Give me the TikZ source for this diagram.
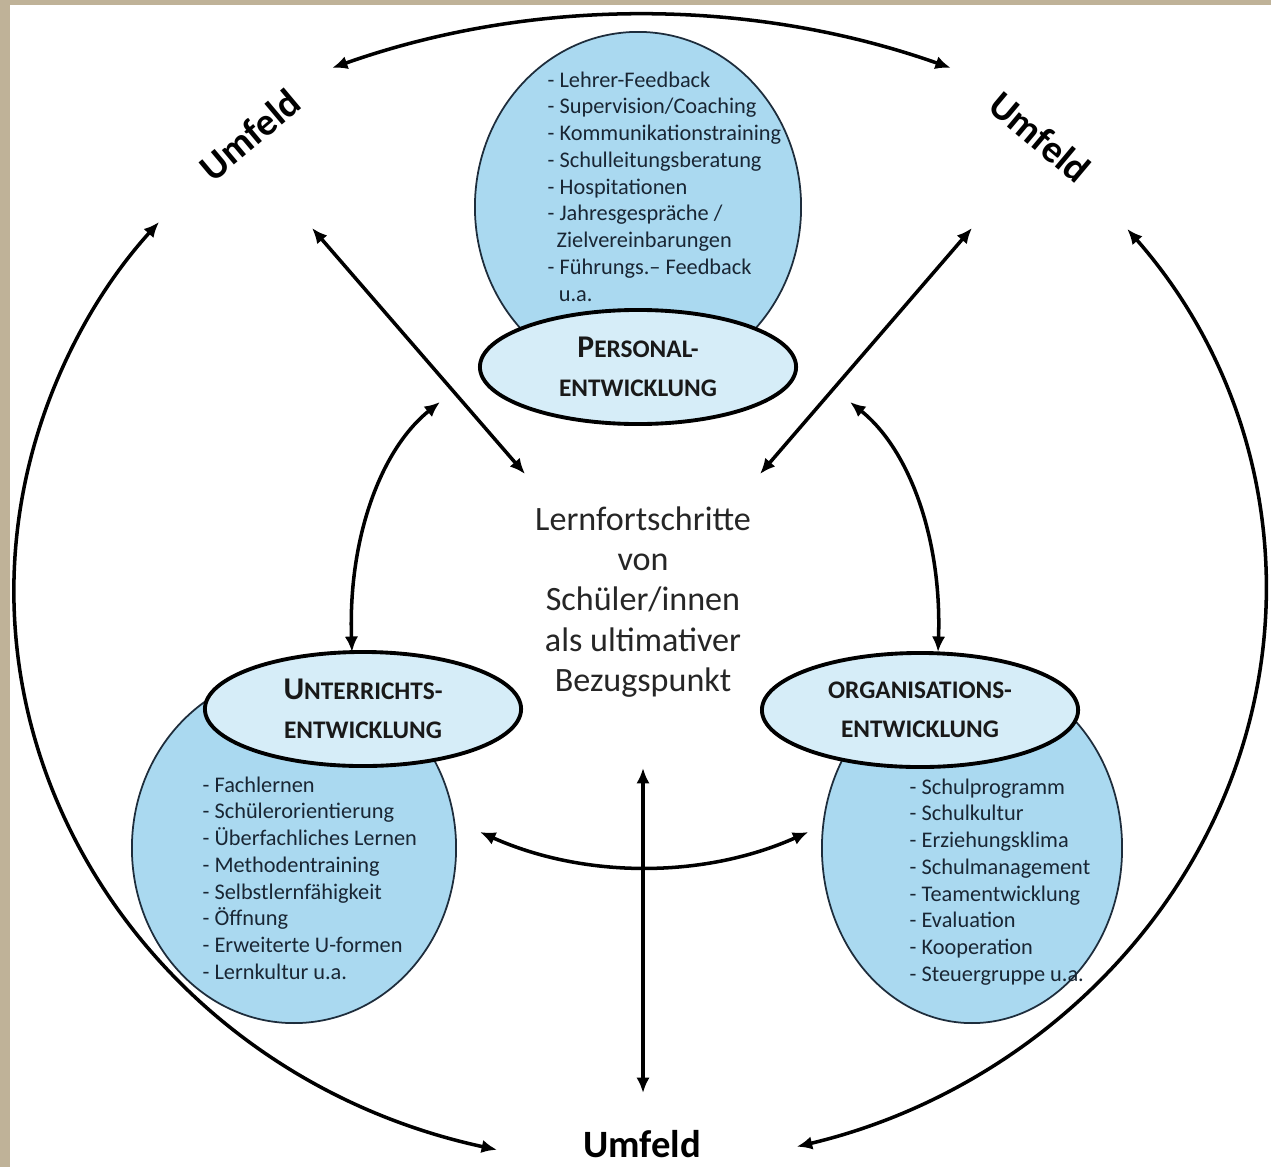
\documentclass[tikz,border=0pt]{standalone}
\usepackage{fontspec}
\setmainfont{Carlito}
\usetikzlibrary{shapes.geometric,arrows.meta,calc}
\definecolor{blobfill}{RGB}{170,217,240}
\definecolor{ellfill}{RGB}{214,237,248}
\definecolor{beige}{RGB}{191,178,152}
\definecolor{listtxt}{RGB}{25,38,52}
\definecolor{blobline}{RGB}{30,45,60}
\newcommand\bigini[1]{{\fontsize{9}{11}\selectfont #1}}
\begin{document}
\begin{tikzpicture}[x=0.01cm,y=-0.01cm,
  arr/.style={line width=1pt, {Latex[length=4.4pt,width=3.8pt]}-{Latex[length=4.4pt,width=3.8pt]}},
  blobshape/.style={ellipse, draw=blobline, line width=0.5pt, fill=blobfill, inner sep=0},
  headell/.style={ellipse, draw=black, line width=1.1pt, fill=ellfill, minimum width=3.16cm, minimum height=1.14cm, inner sep=0, align=center, font=\fontsize{7.2}{11}\selectfont\bfseries, text=black!90},
  listtext/.style={align=left, anchor=north west, inner sep=0, font=\fontsize{6.35}{7.6}\selectfont, text=listtxt},
  umf/.style={font=\fontsize{11}{13}\selectfont\bfseries, text=black, inner sep=1pt},
]
\fill[beige] (0,0) rectangle (1271,1167);
\fill[white] (10,5) rectangle (1271,1167);
\useasboundingbox (0,0) rectangle (1271,1167);

% blobs
\node[blobshape, minimum width=3.26cm, minimum height=3.5cm] (pblob) at (638,207) {};
\node[blobshape, minimum width=3.24cm, minimum height=3.5cm] (ublob) at (294,848) {};
\node[blobshape, minimum width=3.0cm, minimum height=3.5cm] (oblob) at (972,848) {};

% lists
\node[listtext] (plist) at (547,71) {- Lehrer-Feedback\\- Supervision/Coaching\\- Kommunikationstraining\\- Schulleitungsberatung\\- Hospitationen\\- Jahresgespräche /\\\hspace{0.4em}Zielvereinbarungen\\- Führungs.– Feedback\\\hspace{0.5em}u.a.};
\node[listtext] (ulist) at (202,776) {- Fachlernen\\- Schülerorientierung\\- Überfachliches Lernen\\- Methodentraining\\- Selbstlernfähigkeit\\- Öffnung\\- Erweiterte U-formen\\- Lernkultur u.a.};
\node[listtext] (olist) at (909,778) {- Schulprogramm\\- Schulkultur\\- Erziehungsklima\\- Schulmanagement\\- Teamentwicklung\\- Evaluation\\- Kooperation\\- Steuergruppe u.a.};

% header ellipses
\node[headell] (phead) at (638,367) {\bigini{P}ERSONAL-\\ENTWICKLUNG};
\node[headell] (uhead) at (363,709) {\bigini{U}NTERRICHTS-\\ENTWICKLUNG};
\node[headell] (ohead) at (920,710) {ORGANISATIONS-\\ENTWICKLUNG};

% centre text
\node[font=\fontsize{9.7}{11.4}\selectfont, align=center, text=black!85, inner sep=0] (center) at (643,602) {Lernfortschritte\\von\\Schüler/innen\\als ultimativer\\Bezugspunkt};

% Umfeld labels
\node[umf, rotate=40] (umfTL) at (250,135) {Umfeld};
\node[umf, rotate=-40] (umfTR) at (1040,137) {Umfeld};
\node[umf] (umfB) at (642,1144) {Umfeld};

% connector end points
\coordinate (topL) at (332,68);
\coordinate (tlA) at (312,228);
\coordinate (tlB) at (525,474);
\coordinate (trA) at (972,228);
\coordinate (trB) at (760,474);
\coordinate (lcA) at (440,402);
\coordinate (lcB) at (352,652);
\coordinate (rcA) at (850,402);
\coordinate (rcB) at (938,652);
\coordinate (bL) at (480,832);
\coordinate (vA) at (643,768);
\coordinate (vB) at (643,1093);
\coordinate (bigC) at (640,590);
\coordinate (laBot) at ($(bigC)+(103.2:626 and 575)$);
\coordinate (raTop) at ($(bigC)+(-38.9:626 and 575)$);

% connectors
\draw[arr] (topL) arc[start angle=250.5, end angle=289.5, radius=927];
\draw[arr] (tlA) -- (tlB);
\draw[arr] (trA) -- (trB);
\draw[arr] (lcA) .. controls (380,450) and (348,540) .. (lcB);
\draw[arr] (rcA) .. controls (910,450) and (942,540) .. (rcB);
\draw[arr] (bL) arc[start angle=114.1, end angle=65.9, radius=402];
\draw[arr] (vA) -- (vB);
\draw[arr] (laBot) arc[start angle=103.2, end angle=219.8, x radius=626, y radius=575];
\draw[arr] (raTop) arc[start angle=-38.9, end angle=75.5, x radius=626, y radius=575];
\end{tikzpicture}
\end{document}
